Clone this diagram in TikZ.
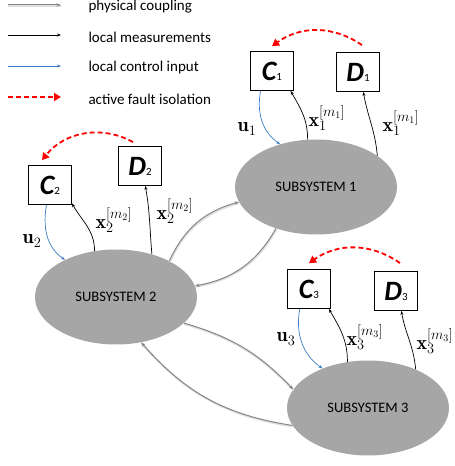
\documentclass[tikz,border=0pt]{standalone}
\usepackage{fontspec}
\setsansfont{Carlito}
\usetikzlibrary{arrows.meta,shapes.geometric}
\definecolor{subgray}{RGB}{166,166,166}
\definecolor{coupgray}{RGB}{135,135,135}
\definecolor{ctrlblue}{RGB}{58,124,196}
\tikzset{
  subsys/.style={ellipse, fill=subgray, minimum width=162pt, minimum height=95pt, inner sep=0pt, font=\sffamily\fontsize{14.5}{16}\selectfont},
  blockbox/.style={draw, line width=0.8pt, minimum width=43pt, minimum height=39pt, inner sep=0pt},
  coupling/.style={coupgray, line width=1pt, -{Stealth[length=4.5pt,width=3.5pt]}, preaction={draw=gray!25, line width=2pt, -, transform canvas={xshift=0.4pt,yshift=-1pt}}},
  meas/.style={black, line width=0.7pt, -{Stealth[length=4pt,width=3pt]}},
  ctrl/.style={ctrlblue, line width=0.7pt, -{Stealth[length=4pt,width=3pt]}},
  isolation/.style={red, line width=1.8pt, dash pattern=on 5pt off 3pt, -{Triangle[length=7pt,width=8pt]}},
  legtext/.style={anchor=west, font=\sffamily\fontsize{15}{17}\selectfont},
  sig/.style={font=\fontsize{20}{22}\selectfont}
}
\newcommand{\blk}[2]{{\sffamily\fontsize{28}{30}\selectfont\bfseries\itshape #1}{\sffamily\fontsize{11}{12}\selectfont #2}}
\begin{document}
\begin{tikzpicture}[x=1pt,y=1pt]
    \useasboundingbox (0,0) rectangle (455,466);
    \foreach \y/\sty/\txt [count=\i] in {461/coupling/physical coupling, 431/meas/local measurements, 400/ctrl/local control input, 369/isolation/active fault isolation} {
        \coordinate (leg\i) at (8,\y);
        \draw[\sty] (leg\i) -- ++(53,0);
        \node[legtext] (legt\i) at (85,\y-2) {\txt};
    }
    \foreach \i/\sx/\sy/\cx/\cy/\dx/\dy in {1/316/279/272/395/358/394, 2/116/169/50/281/140/300, 3/368/58/309/177/396/175} {
        \node[subsys] (s\i) at (\sx,\sy) {SUBSYSTEM \i};
        \node[blockbox] (c\i) at (\cx,\cy) {\blk{C}{\i}};
        \node[blockbox] (d\i) at (\dx,\dy) {\blk{D}{\i}};
    }
    \foreach \i/\ua/\xa/\da/\cu/\cx in {1/130/100/27/240/313, 2/144/115/50/260/320, 3/139/114/39/245/315} {
        \draw[ctrl] (c\i.\cu) to[out=-100,in=145] (s\i.\ua);
        \draw[meas] (s\i.\xa) to[out=90,in=-60] (c\i.\cx);
        \draw[meas] (s\i.\da) to[out=95,in=-80] (d\i.285);
    }
    \node[sig] (u1) at (247,337) {$\mathbf{u}_1$};
    \node[sig] (x1a) at (327,348) {$\mathbf{x}_1^{[m_1]}$};
    \node[sig] (x1b) at (401,343) {$\mathbf{x}_1^{[m_1]}$};
    \node[sig] (u2) at (32,225) {$\mathbf{u}_2$};
    \node[sig] (x2a) at (114,246) {$\mathbf{x}_2^{[m_2]}$};
    \node[sig] (x2b) at (175,255) {$\mathbf{x}_2^{[m_2]}$};
    \node[sig] (u3) at (286,127) {$\mathbf{u}_3$};
    \node[sig] (x3a) at (365,129) {$\mathbf{x}_3^{[m_3]}$};
    \node[sig] (x3b) at (435,125) {$\mathbf{x}_3^{[m_3]}$};
    \draw[isolation] ([xshift=4pt,yshift=7pt]d1.north) to[bend right=35] ([yshift=5pt]c1.north);
    \draw[isolation] ([xshift=-7pt,yshift=4pt]d2.north) to[bend right=40] ([xshift=-8pt,yshift=5pt]c2.north);
    \draw[isolation] ([xshift=4pt,yshift=8pt]d3.north) to[bend right=35] ([yshift=6pt]c3.north);
    \draw[coupling] (s2.34) to[bend left=25] (s1.191);
    \draw[coupling] (s1.226) to[bend left=25] (s2.8);
    \draw[coupling] (s2.339) to[bend left=15] (s3.166);
    \draw[coupling] (s3.193) to[bend left=20] (s2.299);
\end{tikzpicture}
\end{document}
